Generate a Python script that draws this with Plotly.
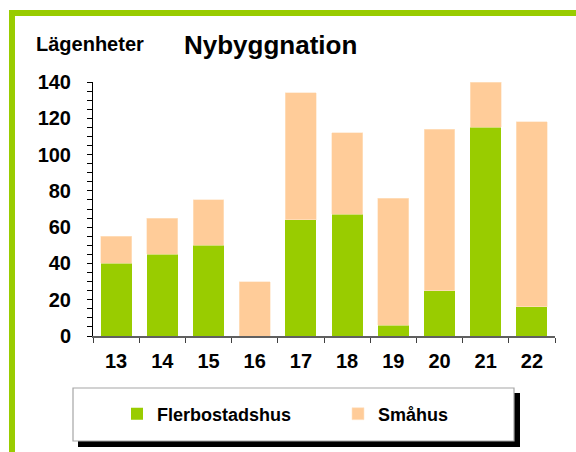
import plotly.graph_objects as go

categories = ["13", "14", "15", "16", "17", "18", "19", "20", "21", "22"]
flerbostadshus = [40, 45, 50, 0, 64, 67, 6, 25, 115, 16]
smahus = [15, 20, 25, 30, 70, 45, 70, 89, 25, 102]
y_ticks = [0, 20, 40, 60, 80, 100, 120, 140]

W, H = 576, 452
L, R, T, B = 93, 555, 82, 336
pw, ph = R - L, B - T

def px(x):
    return (x - L) / pw

def py(y):
    return (B - y) / ph

FONT = "Liberation Sans, Arial, sans-serif"
GREEN = "#99CC00"
PEACH = "#FFCC99"

fig = go.Figure()
fig.add_trace(go.Bar(x=categories, y=flerbostadshus, name="Flerbostadshus",
                     marker=dict(color=GREEN, line=dict(width=0)), legend="legend"))
fig.add_trace(go.Bar(x=categories, y=smahus, name="Småhus",
                     marker=dict(color=PEACH, line=dict(width=0.6, color="#FFE4C8")),
                     legend="legend2"))

shapes = [
    dict(type="rect", xref="paper", yref="paper",
         x0=px(12), x1=px(600), y0=py(13), y1=py(480),
         line=dict(color=GREEN, width=6), fillcolor="rgba(0,0,0,0)", layer="below"),
    dict(type="rect", xref="paper", yref="paper",
         x0=px(78), x1=px(520), y0=py(393), y1=py(447),
         line=dict(width=0), fillcolor="black", layer="above"),
    dict(type="rect", xref="paper", yref="paper",
         x0=px(73), x1=px(514), y0=py(388), y1=py(441),
         line=dict(color="#A6A6A6", width=1.2), fillcolor="white", layer="above"),
]

annotations = [
    dict(text="Nybyggnation", xref="paper", yref="paper", x=px(270), y=py(45),
         xanchor="center", yanchor="middle", showarrow=False,
         font=dict(family=FONT, size=26, color="black", weight=700)),
    dict(text="Lägenheter", xref="paper", yref="paper", x=px(34), y=py(43.5),
         xanchor="left", yanchor="middle", showarrow=False,
         font=dict(family=FONT, size=20, color="black", weight=700)),
]

legend_font = dict(family=FONT, size=18, color="black", weight=700)

fig.update_layout(
    width=W, height=H,
    margin=dict(l=L, r=W - R, t=T, b=H - B, pad=0),
    barmode="stack", bargap=0.33,
    plot_bgcolor="white", paper_bgcolor="white",
    font=dict(family=FONT, color="black"),
    shapes=shapes, annotations=annotations,
    showlegend=True,
    legend=dict(orientation="h", x=px(117), y=py(414), xanchor="left", yanchor="middle",
                xref="paper", yref="paper",
                bgcolor="rgba(0,0,0,0)", borderwidth=0, font=legend_font),
    legend2=dict(orientation="h", x=px(338), y=py(414), xanchor="left", yanchor="middle",
                 xref="paper", yref="paper",
                 bgcolor="rgba(0,0,0,0)", borderwidth=0, font=legend_font),
)

fig.update_xaxes(
    type="category", showgrid=False, showline=True, linecolor="#606060", linewidth=2,
    ticks="outside", tickson="boundaries", ticklen=5, tickcolor="#404040", tickwidth=1,
    tickfont=dict(family=FONT, size=20, color="black", weight=700),
    ticklabelstandoff=6,
)
fig.update_yaxes(
    range=[0, 140], tickvals=y_ticks, showgrid=False, zeroline=False,
    showline=True, linecolor="black", linewidth=1,
    ticks="outside", ticklen=5, tickcolor="black", tickwidth=1,
    minor=dict(dtick=5, ticks="outside", ticklen=5, tickcolor="black", tickwidth=1, showgrid=False),
    tickfont=dict(family=FONT, size=20, color="black", weight=700),
    ticklabelstandoff=12,
)

fig.write_html("out.html", config={"displayModeBar": False},
               post_script="document.body.style.margin='0';document.body.style.overflow='hidden';")
